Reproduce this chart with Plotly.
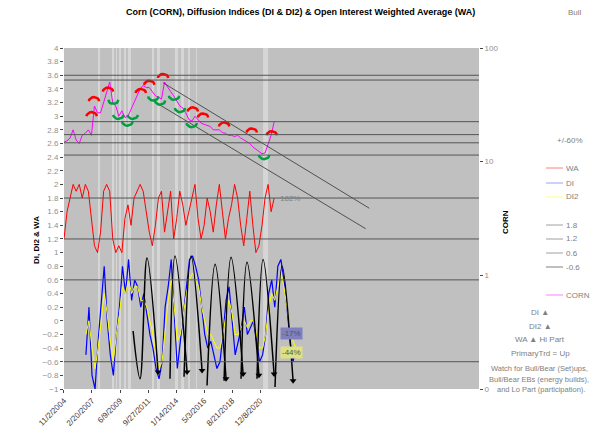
import numpy as np
import pandas as pd
import plotly.graph_objects as go

def yr2date(y):
    y = np.asarray(y, dtype=float)
    return [pd.Timestamp('2004-01-01') + pd.Timedelta(days=float((v - 2004.0) * 365.25)) for v in y]

STEP = 0.25
corn_start = 2004.84
corn = [2.62,2.64,2.68,2.8,2.65,2.6,2.72,2.75,2.8,2.72,3.15,3.05,3.05,3.2,3.38,3.5,3.2,3.15,3.0,3.08,
        2.98,3.0,3.1,3.2,3.32,3.4,3.45,3.42,3.42,3.35,3.3,3.28,3.25,3.5,3.42,3.36,3.3,3.22,3.15,3.12,
        3.05,2.95,2.93,3.0,2.95,2.9,2.88,2.86,2.85,2.8,2.8,2.8,2.76,2.75,2.72,2.72,2.7,2.72,2.68,2.65,
        2.62,2.6,2.55,2.52,2.48,2.45,2.46,2.6,2.72,2.92]
wa_start = 2004.84
wa = [1.2,1.6,1.8,2.0,1.9,2.0,1.8,2.0,1.9,1.5,1.1,1.0,1.3,1.9,2.0,1.9,1.2,1.0,1.1,1.0,1.5,1.7,1.4,1.8,1.9,
      2.0,1.9,1.6,1.3,1.1,1.4,1.8,1.9,1.3,1.6,1.9,1.2,1.5,1.9,1.7,1.4,1.6,1.8,2.0,1.5,1.2,1.4,1.8,1.6,1.3,
      1.7,2.0,1.6,1.2,1.5,1.7,2.0,1.8,1.4,1.1,1.5,1.9,1.4,1.0,1.1,1.4,1.8,2.0,1.6,1.8]
di_start = 2006.64
di = [-0.5,0.2,-0.8,-1.0,-0.3,0.3,0.8,0.0,-0.5,-0.8,-0.2,0.2,0.8,0.4,0.9,0.3,0.6,0.5,0.2,0.4,0.1,-0.2,
      -0.4,-0.7,-0.85,-0.6,0.2,0.5,0.9,0.0,-0.7,-0.3,0.1,0.5,0.9,0.95,0.8,0.6,0.2,-0.2,-0.4,-0.3,-0.5,-0.7,
      -0.6,-0.2,0.3,0.5,0.0,-0.5,-0.3,-0.1,0.2,-0.2,-0.1,0.0,-0.3,-0.6,-0.5,-0.2,0.4,0.6,0.2,0.8,0.9,0.6,
      0.2,-0.3,-0.6,-0.4]
di2 = [-0.2,0.0,-0.4,-0.7,-0.4,0.0,0.4,0.1,-0.3,-0.6,-0.2,0.1,0.5,0.4,0.6,0.4,0.5,0.5,0.3,0.3,0.2,0.0,
       -0.2,-0.5,-0.7,-0.6,-0.1,0.3,0.6,0.2,-0.3,-0.2,0.1,0.4,0.6,0.7,0.6,0.5,0.2,0.0,-0.2,-0.2,-0.3,-0.4,
       -0.4,-0.2,0.1,0.3,0.1,-0.2,-0.2,-0.1,0.0,-0.1,0.0,0.0,-0.2,-0.4,-0.4,-0.2,0.2,0.4,0.3,0.5,0.7,0.5,
       0.2,-0.1,-0.3,-0.4]
cycles = [
    ([2010.51,2011.08,2011.65,2012.56], [-0.15,-0.85,0.92,-0.75]),
    ([2013.54,2013.95,2014.94], [-0.85,0.95,-0.75]),
    ([2014.69,2015.27,2016.17], [-0.82,0.95,-0.73]),
    ([2016.58,2017.24,2018.14], [-0.95,0.83,-0.85]),
    ([2017.98,2018.55,2019.54], [-0.88,0.93,-0.78]),
    ([2019.37,2019.86,2020.84], [-0.85,0.86,-0.8]),
    ([2020.68,2021.18,2022.08], [-0.85,0.9,-0.78]),
    ([2022.16,2022.74,2023.64], [-0.97,0.8,-0.88]),
]
highs_yr = [2007.11,2007.30,2008.45,2011.14,2011.84,2012.97,2015.41,2016.25,2017.98,2020.25,2021.89]
highs_v = [3.0,3.22,3.36,3.34,3.46,3.56,3.07,2.98,2.85,2.76,2.72]
lows_yr = [2008.89,2009.30,2010.04,2010.48,2012.17,2012.72,2013.87,2014.36,2015.32,2021.26]
lows_v = [3.24,3.02,2.92,3.02,3.29,3.23,3.30,3.12,2.90,2.43]
hlines = [3.6,3.53,2.92,2.73,2.61,2.43,1.8,1.2,0.6,-0.6]
bands = [(2007.63,2007.80),(2008.78,2008.95),(2009.11,2009.19),(2009.36,2009.52),(2009.77,2009.93),
         (2010.09,2010.34),(2012.06,2012.23),(2012.47,2012.72),(2013.95,2014.20),(2014.45,2014.69),
         (2015.02,2015.18),(2015.68,2015.76),(2021.18,2021.59)]
trend_up = ([2012.97, 2029.9], [3.49, 1.65])
trend_lo = ([2012.56, 2029.6], [3.18, 1.35])
tick_dates = ['2004-11-02','2007-02-20','2009-06-09','2011-09-27','2014-01-14','2016-05-03','2018-08-21','2020-12-08']
tick_text = ['11/2/2004','2/20/2007','6/9/2009','9/27/2011','1/14/2014','5/3/2016','8/21/2018','12/8/2020']

def grid(start, n):
    return yr2date([start + STEP * i for i in range(n)])

L, R, T, B = 64, 479, 48, 389
fig = go.Figure()
shapes = []
for a, b in bands:
    d = yr2date([a, b])
    shapes.append(dict(type='rect', xref='x', yref='paper', x0=d[0], x1=d[1], y0=0, y1=1,
                       fillcolor='rgba(255,255,255,0.35)', line_width=0, layer='below'))
for h in hlines:
    shapes.append(dict(type='line', xref='paper', yref='y', x0=0, x1=1, y0=h, y1=h,
                       line=dict(color='#555555', width=1)))

fig.add_trace(go.Scatter(x=grid(wa_start, len(wa)), y=wa, mode='lines', line=dict(color='#ff0000', width=1)))
fig.add_trace(go.Scatter(x=grid(di_start, len(di)), y=di, mode='lines', line=dict(color='#0000ff', width=1.2)))
fig.add_trace(go.Scatter(x=grid(di_start, len(di2)), y=di2, mode='lines', line=dict(color='#ffff00', width=1)))
fig.add_trace(go.Scatter(x=grid(corn_start, len(corn)), y=corn, mode='lines', line=dict(color='#ff00ff', width=1)))
for xs, ys in [trend_up, trend_lo]:
    fig.add_trace(go.Scatter(x=yr2date(xs), y=ys, mode='lines', line=dict(color='#333333', width=0.8)))
for xs, ys in cycles:
    fig.add_trace(go.Scatter(x=yr2date(xs), y=ys, mode='lines', line=dict(color='black', width=1.5, shape='spline')))
    fig.add_trace(go.Scatter(x=yr2date([xs[-1]]), y=[ys[-1]], mode='markers',
                             marker=dict(symbol='triangle-down', size=6, color='black')))

def arcs(yrs, vals, sign):
    xs, ys = [], []
    t = np.linspace(0, np.pi, 9)
    for y0, v0 in zip(yrs, vals):
        xs += yr2date(y0 + 0.42 * np.cos(t)) + [None]
        ys += list(v0 + sign * 0.06 * np.sin(t)) + [None]
    return xs, ys
for yrs, vals, sign, col in [(highs_yr, highs_v, 1, '#ff0000'), (lows_yr, lows_v, -1, '#00a040')]:
    xs, ys = arcs(yrs, vals, sign)
    fig.add_trace(go.Scatter(x=xs, y=ys, mode='lines', line=dict(color=col, width=2.5)))

fig.add_trace(go.Scatter(x=yr2date([2005]), y=[1], yaxis='y2', mode='markers', marker=dict(opacity=0)))

ann = []
def A(x, y, t, size=8, color='#808080', xanchor='center', **k):
    ann.append(dict(x=(x - L) / (R - L), y=(B - y) / (B - T), xref='paper', yref='paper', text=t,
                    showarrow=False, font=dict(size=size, color=color), xanchor=xanchor,
                    yanchor='middle', **k))
A(300, 12, '<b>Corn (CORN), Diffusion Indices (DI & DI2) & Open Interest Weighted Average (WA)</b>', 9, 'black')
A(575, 12, 'Bull', 8)
A(570, 140, '+/-60%', 8)
A(290, 198, '182%', 8)
A(291, 333, '-17%', 8, '#555555', bgcolor='#8080c0')
A(291, 352, '-44%', 8, '#555555', bgcolor='#e0e080')
leg = [('WA', 168, '#ff8080'), ('DI', 183, '#a0a0ff'), ('DI2', 197, '#ffff80'), ('1.8', 225, '#a0a0a0'),
       ('1.2', 239, '#a0a0a0'), ('0.6', 253, '#a0a0a0'), ('-0.6', 267, '#808080'), ('CORN', 295, '#ff80ff')]
for t, y, c in leg:
    yy = (B - y) / (B - T)
    shapes.append(dict(type='line', xref='paper', yref='paper', x0=(546 - L) / (R - L), x1=(563 - L) / (R - L),
                       y0=yy, y1=yy, line=dict(color=c, width=1)))
    A(564, y, t, 8, xanchor='left')
A(540, 312, 'DI ▲', 8)
A(540, 326, 'DI2 ▲', 8)
A(540, 339, 'WA ▲ Hi Part', 8)
A(540, 353, 'PrimaryTrd = Up', 8)
A(539, 368, 'Watch for Bull/Bear (Set)ups,', 7.5)
A(539, 379, 'Bull/Bear EBs (energy builds),', 7.5)
A(541, 389, 'and Lo Part (participation).', 7.5)
A(37, 240, '<b>DI, DI2 & WA</b>', 8, 'black', textangle=-90)
A(505, 222, '<b>CORN</b>', 8, 'black', textangle=-90)

fig.update_layout(
    width=600, height=436, autosize=False, margin=dict(l=L, r=600 - R, t=T, b=436 - B, autoexpand=False),
    paper_bgcolor='white', plot_bgcolor='#c0c0c0', showlegend=False,
    font=dict(family='Liberation Sans, Arial', size=8, color='#808080'),
    shapes=shapes, annotations=ann,
    xaxis=dict(type='date', range=yr2date([2004.84, 2038.9]), tickvals=tick_dates, ticktext=tick_text,
               tickangle=-45, showgrid=False, zeroline=False, ticks='outside', ticklen=3,
               tickfont=dict(size=8, color='#404040')),
    yaxis=dict(range=[-1, 4], dtick=0.2, showgrid=False, zeroline=False, tickfont=dict(size=8, color='#909090'),
               ticks='outside', ticklen=3),
    yaxis2=dict(type='log', range=[-1, 2], overlaying='y', side='right', tickvals=[0.1, 1, 10, 100],
                ticktext=['0', '1', '10', '100'], showgrid=False, ticks='outside', ticklen=3,
                tickfont=dict(size=8, color='#909090')),
)
fig.write_html('out.html', config={'displayModeBar': False},
               post_script="document.body.style.margin='0';document.body.style.padding='0';")
